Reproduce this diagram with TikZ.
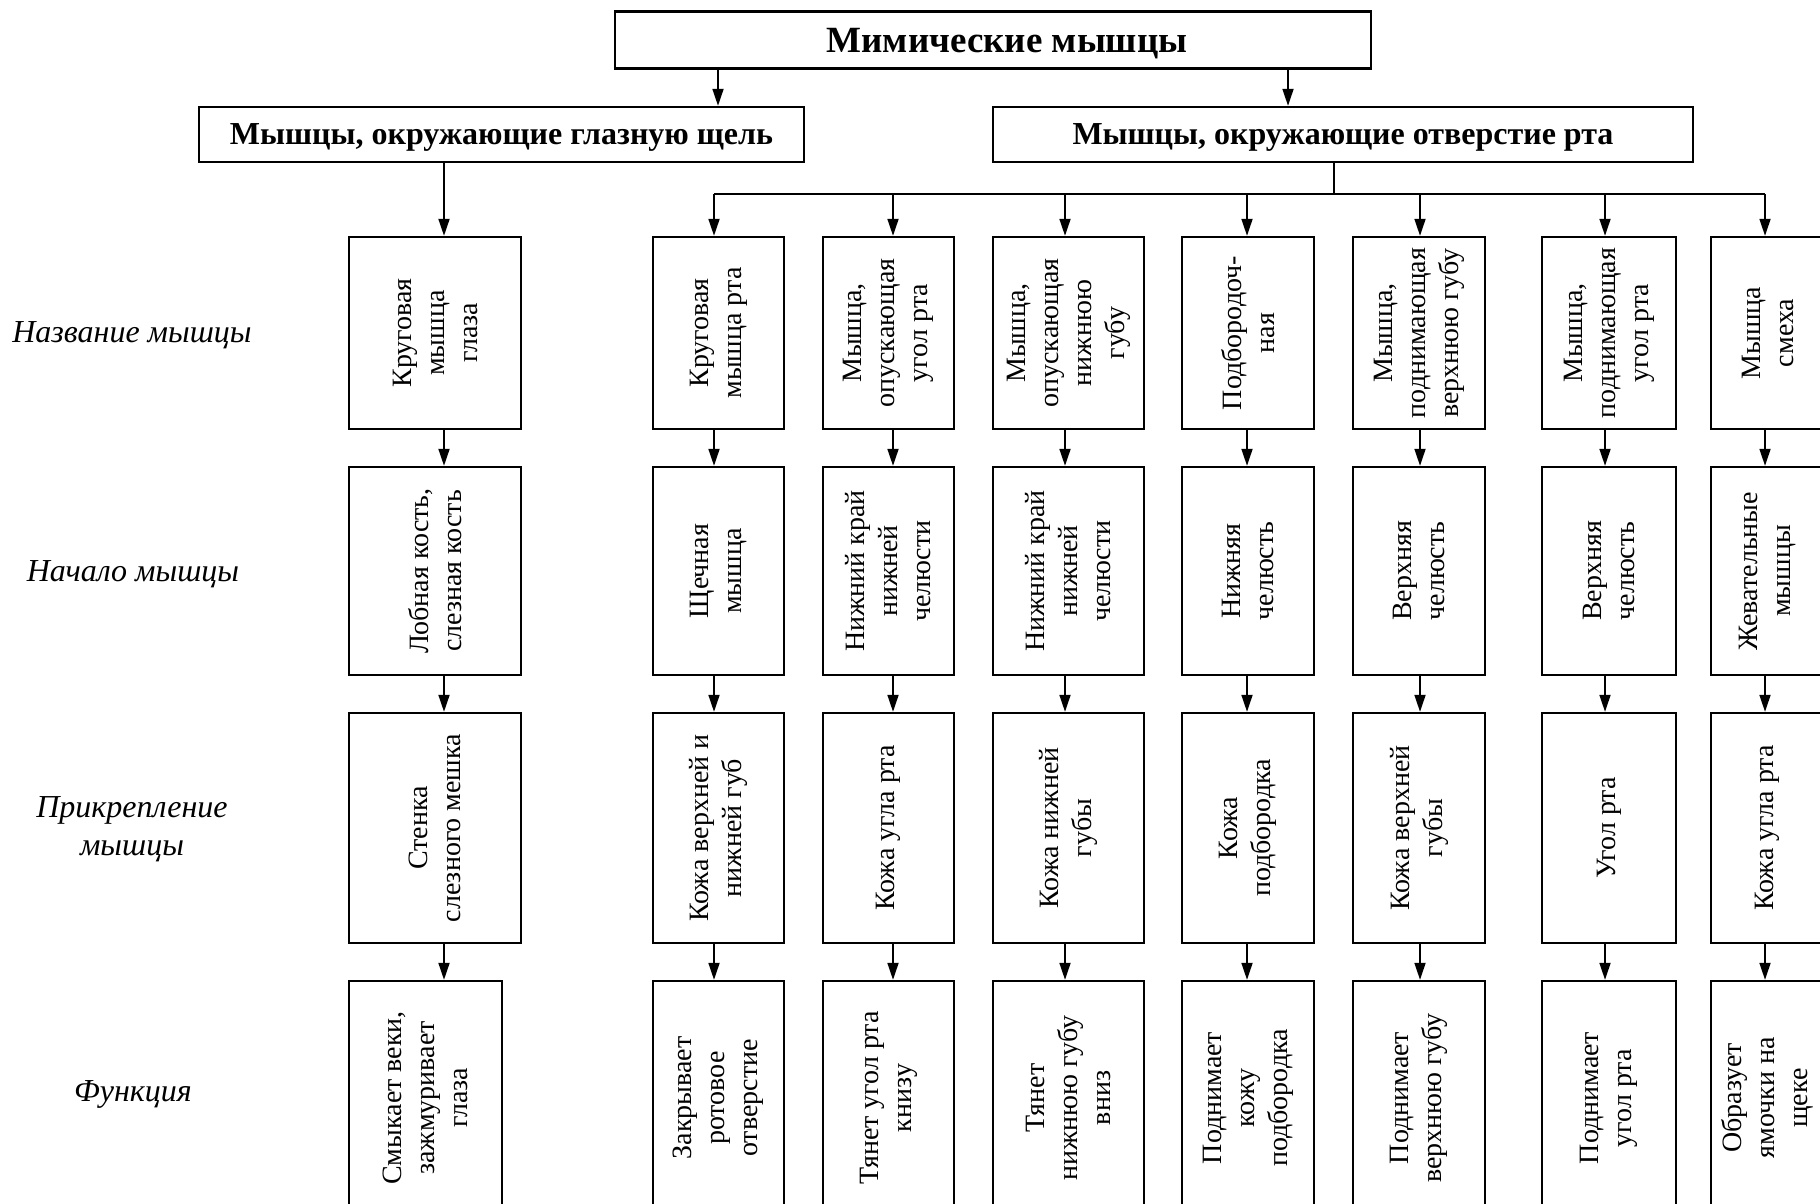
\documentclass[tikz,border=0pt]{standalone}
\usepackage{fontspec}
\setmainfont{Liberation Serif}
\usetikzlibrary{arrows.meta}

\begin{document}
\begin{tikzpicture}[x=1pt,y=-1pt,
  cell/.style={draw,line width=2.4pt,rectangle,inner sep=0pt},
  celltext/.style={rotate=90,align=center,inner sep=0pt,font=\fontsize{28}{33}\selectfont},
  head/.style={draw,line width=2.4pt,inner sep=0pt,text depth=0pt},
  rowlabel/.style={align=center,font=\itshape\fontsize{32}{38}\selectfont},
  arr/.style={-{Triangle[length=17pt,width=11pt]},line width=1.8pt},
  link/.style={line width=1.8pt}]
  \useasboundingbox (0,0) rectangle (1820,1203);
  \clip (0,0) rectangle (1820,1203);

  % Headings
  \node[head,minimum width=756,minimum height=57,font=\bfseries\fontsize{37}{40}\selectfont]
    (top) at (993,40) {\hspace*{28pt}Мимические мышцы};
  \node[head,minimum width=605,minimum height=55,font=\bfseries\fontsize{32}{36}\selectfont]
    (lsub) at (501.5,134.5) {Мышцы, окружающие глазную щель};
  \node[head,minimum width=700,minimum height=55,font=\bfseries\fontsize{32}{36}\selectfont]
    (rsub) at (1343,134.5) {Мышцы, окружающие отверстие рта};

  % Row captions
  \node[rowlabel] (lab1) at (132,335) {Название мышцы};
  \node[rowlabel] (lab2) at (133,574) {Начало мышцы};
  \node[rowlabel] (lab3) at (132,829) {Прикрепление\\мышцы};
  \node[rowlabel] (lab4) at (133,1094) {Функция};

  % Grid of boxes: column / left / right / right of last row / arrow x
  \foreach \k/\xl/\xr/\xq/\ax in {0/349/521/502/444, 1/653/784/784/714,
      2/823/954/954/893, 3/993/1144/1144/1065, 4/1182/1314/1314/1247,
      5/1353/1485/1485/1420, 6/1542/1676/1676/1605, 7/1711/1824/1824/1765} {
    \coordinate (a\k) at (\ax,0);
    \foreach \r/\yt/\yb in {1/237/429, 2/467/675, 3/713/943}
      \node[cell,minimum width={(\xr-\xl)*1pt},minimum height={(\yb-\yt)*1pt}]
        (r\r c\k) at ({(\xl+\xr)/2},{(\yt+\yb)/2}) {};
    \node[cell,minimum width={(\xq-\xl)*1pt},minimum height=234]
      (r4c\k) at ({(\xl+\xq)/2},1098) {};
  }

  % Texts
  \node[celltext] (t1c0) at (r1c0) {Круговая\\мышца\\глаза};
  \node[celltext] (t2c0) at (r2c0) {Лобная кость,\\слезная кость};
  \node[celltext] (t3c0) at (r3c0) {Стенка\\слезного мешка};
  \node[celltext] (t4c0) at (r4c0) {Смыкает веки,\\зажмуривает\\глаза};

  \node[celltext] (t1c1) at (r1c1) {Круговая\\мышца рта};
  \node[celltext] (t2c1) at (r2c1) {Щечная\\мышца};
  \node[celltext] (t3c1) at (r3c1) {Кожа верхней и\\нижней губ};
  \node[celltext] (t4c1) at (r4c1) {Закрывает\\ротовое\\отверстие};

  \node[celltext] (t1c2) at (r1c2) {Мышца,\\опускающая\\угол рта};
  \node[celltext] (t2c2) at (r2c2) {Нижний край\\нижней\\челюсти};
  \node[celltext] (t3c2) at (r3c2) {Кожа угла рта};
  \node[celltext] (t4c2) at (r4c2) {Тянет угол рта\\книзу};

  \node[celltext] (t1c3) at (r1c3) {Мышца,\\опускающая\\нижнюю\\губу};
  \node[celltext] (t2c3) at (r2c3) {Нижний край\\нижней\\челюсти};
  \node[celltext] (t3c3) at (r3c3) {Кожа нижней\\губы};
  \node[celltext] (t4c3) at (r4c3) {Тянет\\нижнюю губу\\вниз};

  \node[celltext] (t1c4) at (r1c4) {Подбородоч-\\ная};
  \node[celltext] (t2c4) at (r2c4) {Нижняя\\челюсть};
  \node[celltext] (t3c4) at (r3c4) {Кожа\\подбородка};
  \node[celltext] (t4c4) at (r4c4) {Поднимает\\кожу\\подбородка};

  \node[celltext] (t1c5) at (r1c5) {Мышца,\\поднимающая\\верхнюю губу};
  \node[celltext] (t2c5) at (r2c5) {Верхняя\\челюсть};
  \node[celltext] (t3c5) at (r3c5) {Кожа верхней\\губы};
  \node[celltext] (t4c5) at (r4c5) {Поднимает\\верхнюю губу};

  \node[celltext] (t1c6) at (r1c6) {Мышца,\\поднимающая\\угол рта};
  \node[celltext] (t2c6) at (r2c6) {Верхняя\\челюсть};
  \node[celltext] (t3c6) at (r3c6) {Угол рта};
  \node[celltext] (t4c6) at (r4c6) {Поднимает\\угол рта};

  \node[celltext] (t1c7) at (r1c7) {Мышца\\смеха};
  \node[celltext] (t2c7) at (r2c7) {Жевательные\\мышцы};
  \node[celltext] (t3c7) at (r3c7) {Кожа угла рта};
  \node[celltext] (t4c7) at (r4c7) {Образует\\ямочки на\\щеке};

  % Connectors from the headings
  \coordinate (tl) at (718,0);
  \coordinate (tr) at (1288,0);
  \coordinate (stem) at (1334,194);
  \draw[arr] (top.south -| tl) -- (lsub.north -| tl);
  \draw[arr] (top.south -| tr) -- (rsub.north -| tr);
  \draw[arr] (lsub.south -| a0) -- (r1c0.north -| a0);
  \draw[link] (rsub.south -| stem) -- (stem);
  \draw[link] (a1 |- stem) -- (a7 |- stem);
  \foreach \k in {1,...,7}
    \draw[arr] (a\k |- stem) -- (r1c\k.north -| a\k);

  % Arrows down each column
  \foreach \k in {0,...,7} {
    \draw[arr] (r1c\k.south -| a\k) -- (r2c\k.north -| a\k);
    \draw[arr] (r2c\k.south -| a\k) -- (r3c\k.north -| a\k);
    \draw[arr] (r3c\k.south -| a\k) -- (r4c\k.north -| a\k);
  }
\end{tikzpicture}
\end{document}
